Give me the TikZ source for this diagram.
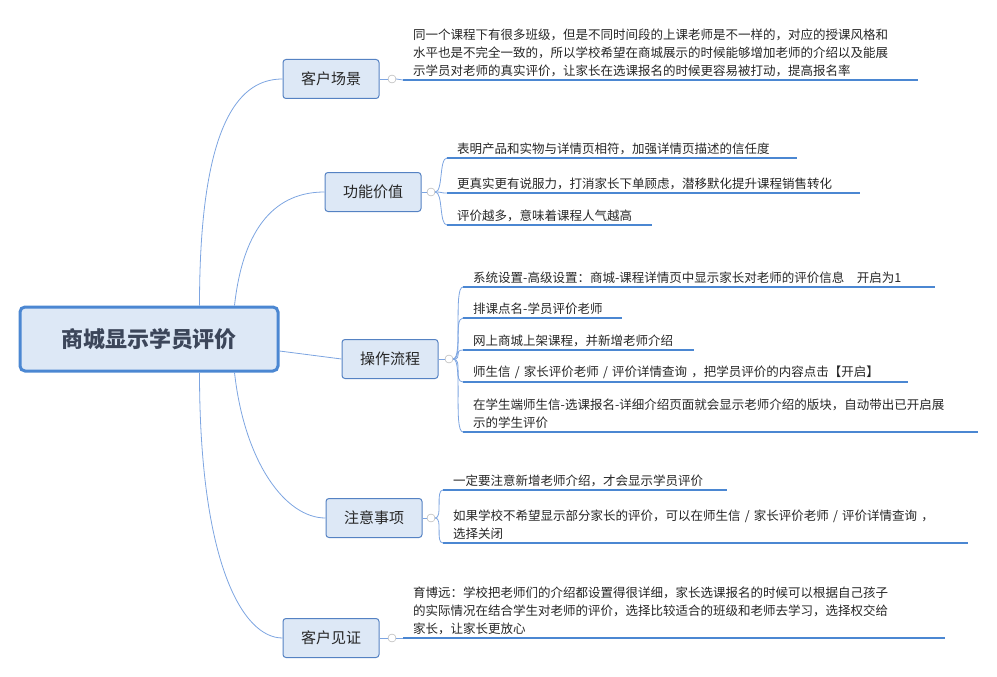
\documentclass[tikz,border=0pt]{standalone}
\usepackage{fontspec}
\newfontfamily\cjk{Noto Sans CJK SC}
\usetikzlibrary{positioning}
\definecolor{linebl}{RGB}{75,135,210}
\definecolor{conbl}{RGB}{125,165,225}
\definecolor{boxfill}{RGB}{221,232,246}
\definecolor{boxdraw}{RGB}{85,130,195}
\definecolor{roottext}{RGB}{60,70,90}
\tikzset{
  root/.style={draw=linebl,line width=3pt,fill=boxfill,rounded corners=5pt,minimum width=258pt,minimum height=64pt,font=\cjk\fontsize{22}{26}\selectfont\bfseries,text=roottext},
  branch/.style={draw=boxdraw,line width=1pt,fill=boxfill,rounded corners=3pt,minimum width=96pt,minimum height=39pt,font=\cjk\fontsize{15}{18}\selectfont,text=black!85},
  fold/.style={draw=gray!70,circle,inner sep=0pt,minimum size=8pt,fill=white},
  leaf/.style={anchor=south west,inner xsep=10pt,inner ysep=3pt,align=left,font=\cjk\fontsize{12.5}{18}\selectfont,text=black!85},
  uline/.style={draw=linebl,line width=1.6pt},
  con/.style={draw=conbl,line width=0.8pt}
}
\begin{document}
\begin{tikzpicture}[x=1pt,y=-1pt]
\useasboundingbox (0,0) rectangle (997,677);

% root and branches
\node[root] (r) at (149,339) {商城显示学员评价};
\node[branch] (b1) at (331,79) {客户场景};
\node[branch] (b2) at (373,192) {功能价值};
\node[branch] (b3) at (390,359) {操作流程};
\node[branch] (b4) at (374,518) {注意事项};
\node[branch] (b5) at (331,638) {客户见证};
\node[fold] (f1) at (392,79) {};
\node[fold] (f2) at (431,192) {};
\node[fold] (f3) at (449,359) {};
\node[fold] (f4) at (431,518) {};
\node[fold] (f5) at (392,638) {};
\foreach \i in {1,...,5} \draw[con] (b\i.east) -- (f\i.west);

\draw[con] ([xshift=-80pt]r.north east) .. controls +(0,-190) and +(-40,0) .. (b1.west);
\draw[con] ([xshift=-45pt]r.north east) .. controls +(10,-90) and +(-40,0) .. (b2.west);
\draw[con] ([yshift=-12pt]r.east) -- (b3.west);
\draw[con] ([xshift=-45pt]r.south east) .. controls +(10,90) and +(-40,0) .. (b4.west);
\draw[con] ([xshift=-80pt]r.south east) .. controls +(0,190) and +(-40,0) .. (b5.west);

% leaves
\node[leaf,text width=495pt] (l11) at (403,80) {同一个课程下有很多班级，但是不同时间段的上课老师是不一样的，对应的授课风格和\\水平也是不完全一致的，所以学校希望在商城展示的时候能够增加老师的介绍以及能展\\示学员对老师的真实评价，让家长在选课报名的时候更容易被打动，提高报名率};
\node[leaf,text width=330pt] (l21) at (447,158) {表明产品和实物与详情页相符，加强详情页描述的信任度};
\node[leaf,text width=393pt] (l22) at (447,193) {更真实更有说服力，打消家长下单顾虑，潜移默化提升课程销售转化};
\node[leaf,text width=185pt] (l23) at (447,225) {评价越多，意味着课程人气越高};
\node[leaf,text width=452pt] (l31) at (463,287) {系统设置-高级设置：商城-课程详情页中显示家长对老师的评价信息\quad 开启为1};
\node[leaf,text width=139pt] (l32) at (463,318) {排课点名-学员评价老师};
\node[leaf,text width=211pt] (l33) at (463,350) {网上商城上架课程，并新增老师介绍};
\node[leaf,text width=425pt] (l34) at (463,382) {师生信 / 家长评价老师 / 评价详情查询 ，把学员评价的内容点击【开启】};
\node[leaf,text width=495pt] (l35) at (463,432) {在学生端师生信-选课报名-详细介绍页面就会显示老师介绍的版块，自动带出已开启展\\示的学生评价};
\node[leaf,text width=264pt] (l41) at (443,490) {一定要注意新增老师介绍，才会显示学员评价};
\node[leaf,text width=505pt] (l42) at (443,543) {如果学校不希望显示部分家长的评价，可以在师生信 / 家长评价老师 / 评价详情查询 ，\\选择关闭};
\node[leaf,text width=522pt] (l51) at (403,638) {育博远：学校把老师们的介绍都设置得很详细，家长选课报名的时候可以根据自己孩子\\的实际情况在结合学生对老师的评价，选择比较适合的班级和老师去学习，选择权交给\\家长，让家长更放心};

\foreach \l in {l11,l21,l22,l23,l31,l32,l33,l34,l35,l41,l42,l51}
  \draw[uline] (\l.south west) -- (\l.south east);

\draw[con] (f1.east) -- (l11.south west);
\foreach \l in {l21,l22,l23} \draw[con] (f2.east) .. controls +(8,0) and +(-8,0) .. (\l.south west);
\foreach \l in {l31,l32,l33,l34,l35} \draw[con] (f3.east) .. controls +(10,0) and +(-10,0) .. (\l.south west);
\foreach \l in {l41,l42} \draw[con] (f4.east) .. controls +(8,0) and +(-8,0) .. (\l.south west);
\draw[con] (f5.east) -- (l51.south west);
\end{tikzpicture}
\end{document}
